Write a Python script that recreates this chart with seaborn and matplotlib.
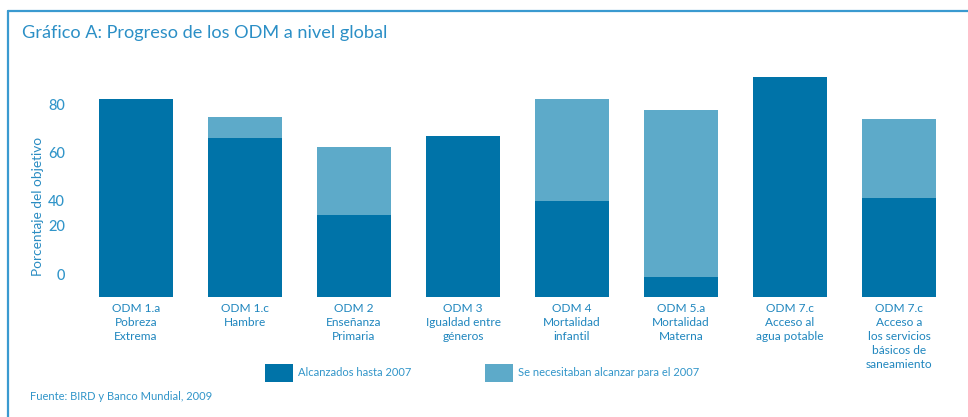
import matplotlib
matplotlib.use("Agg")
import matplotlib.pyplot as plt
import seaborn as sns
import pandas as pd
from matplotlib.patches import Patch
from matplotlib.lines import Line2D

categories = [
    "ODM 1.a\nPobreza\nExtrema",
    "ODM 1.c\nHambre",
    "ODM 2\nEnseñanza\nPrimaria",
    "ODM 3\nIgualdad entre\ngéneros",
    "ODM 4\nMortalidad\ninfantil",
    "ODM 5.a\nMortalidad\nMaterna",
    "ODM 7.c\nAcceso al\nagua potable",
    "ODM 7.c\nAcceso a\nlos servicios\nbásicos de\nsaneamiento",
]
alcanzados = [82.0, 65.9, 34.0, 66.8, 40.0, 8.4, 91.4, 41.1]
necesarios = [82.0, 74.6, 62.4, 66.8, 82.0, 77.5, 91.4, 73.7]
# tick labels as printed in the original (their positions in the source are irregular)
ytick_pos = [80, 60, 40, 29.6, 9.5]
ytick_labels = ["80", "60", "40", "20", "0"]
series_labels = ["Alcanzados hasta 2007", "Se necesitaban alcanzar para el 2007"]

DARK = "#0073A8"
LIGHT = "#5DAAC9"
TXT = "#3195C9"

sns.set_theme(style="white")
plt.rcParams["font.family"] = ["Lato", "DejaVu Sans"]

df = pd.DataFrame({"cat": categories, "alc": alcanzados, "nec": necesarios})

W, H = 968, 417
fig = plt.figure(figsize=(W / 100, H / 100), dpi=100)
ax = fig.add_axes([81.5 / W, (H - 297) / H, 872 / W, 241 / H])

sns.barplot(data=df, x="cat", y="nec", color=LIGHT, width=0.68, ax=ax,
            saturation=1, edgecolor="none")
sns.barplot(data=df, x="cat", y="alc", color=DARK, width=0.68, ax=ax,
            saturation=1, edgecolor="none")

ax.set_xlim(-0.5, 7.5)
ax.set_ylim(0, 100)
for s in ax.spines.values():
    s.set_visible(False)
ax.set_xlabel("")
ax.set_ylabel("Porcentaje del objetivo", color="#2A8CC2", fontsize=9.8)
ax.yaxis.set_label_coords(-37 / 872, 0.5 + (297 - 206 - 120.5) / 241)
ax.set_yticks(ytick_pos)
ax.set_yticklabels(ytick_labels)
ax.tick_params(axis="y", length=0, pad=12, labelsize=10.5, labelcolor=TXT)
ax.tick_params(axis="x", length=0, pad=4.5, labelsize=8.6, labelcolor="#1F86BE")
for t in ax.get_xticklabels():
    t.set_linespacing(1.33)
for t in ax.get_yticklabels():
    t.set_fontweight("medium")

# frame lines
fig.add_artist(Line2D([8 / W, 8 / W], [0, 1 - 11 / H], color="#3A9AD0", lw=1.6))
fig.add_artist(Line2D([8 / W, 1], [1 - 11 / H, 1 - 11 / H], color="#3A9AD0", lw=1.6))

fig.text(22 / W, 1 - 33 / H, "Gráfico A: Progreso de los ODM a nivel global",
         color="#2B8FC6", fontsize=13.1, va="center", ha="left")

handles = [Patch(facecolor=DARK, edgecolor="none"), Patch(facecolor=LIGHT, edgecolor="none")]
fig.legend(handles, series_labels, loc="center left", bbox_to_anchor=(265 / W, 1 - 373 / H),
           ncol=2, frameon=False, fontsize=8, labelcolor=TXT, handlelength=2.5,
           handleheight=2.2, handletextpad=0.5, columnspacing=6.6, borderpad=0,
           borderaxespad=0)

fig.text(30 / W, 1 - 397 / H, "Fuente: BIRD y Banco Mundial, 2009", color=TXT,
         fontsize=8, va="center", ha="left")

fig.savefig("out.png", dpi=100)
